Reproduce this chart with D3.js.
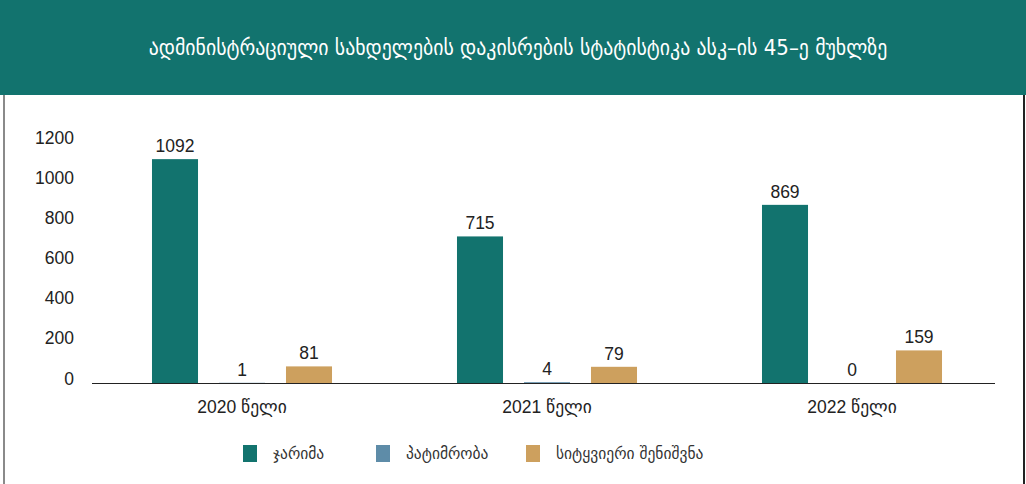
<!DOCTYPE html>
<html>
<head>
<meta charset="utf-8">
<script src="https://cdn.jsdelivr.net/npm/d3@7"></script>
<style>
  body { margin: 0; background: #fff; }
  svg { display: block; }
</style>
</head>
<body>
<div id="chart"></div>
<script>
// chart data
const years = ["2020 წელი", "2021 წელი", "2022 წელი"];
const seriesNames = ["ჯარიმა", "პატიმრობა", "სიტყვიერი შენიშვნა"];
const fines = [1092, 715, 869];
const arrests = [1, 4, 0];
const warnings = [81, 79, 159];
const yTicks = [0, 200, 400, 600, 800, 1000, 1200];
const colors = ["#12736e", "#5e8ca8", "#cda05e"];

const W = 1026, H = 484;
const values = [fines, arrests, warnings];
const data = years.map((yr, i) => ({
    year: yr,
    vals: seriesNames.map((s, j) => ({ key: s, value: values[j][i], color: colors[j] }))
}));

const svg = d3.select("#chart").append("svg")
    .attr("width", W)
    .attr("height", H);

// header band
svg.append("rect")
    .attr("x", 0).attr("y", 0)
    .attr("width", W).attr("height", 95)
    .attr("fill", "#12736e");

svg.append("text")
    .attr("x", 518).attr("y", 49)
    .attr("text-anchor", "middle")
    .attr("dominant-baseline", "middle")
    .attr("fill", "#fff")
    .style("font-family", "'DejaVu Sans Condensed', 'DejaVu Sans', sans-serif")
    .style("font-size", "22px")
    .text("ადმინისტრაციული სახდელების დაკისრების სტატისტიკა ასკ–ის 45–ე მუხლზე");

// frame lines
svg.append("line")
    .attr("x1", 4).attr("x2", 4).attr("y1", 95).attr("y2", H)
    .attr("stroke", "#8a8a8a").attr("stroke-width", 2);
svg.append("line")
    .attr("x1", 1024).attr("x2", 1024).attr("y1", 95).attr("y2", H)
    .attr("stroke", "#222").attr("stroke-width", 2);

// scales
const x0 = d3.scaleBand()
    .domain(years)
    .range([89.5, 1004.5])
    .paddingInner(0.341)
    .paddingOuter(0.1705);

const x1 = d3.scaleBand()
    .domain(seriesNames)
    .range([0, x0.bandwidth()])
    .paddingInner(0.313)
    .paddingOuter(0.1565);

const y = d3.scaleLinear()
    .domain([0, 1200])
    .range([383, 137]);

const font = "'Liberation Sans', Arial, 'DejaVu Sans', sans-serif";
const fs = "17.5px";

// y axis labels (no line)
const yAxis = svg.append("g")
    .attr("transform", "translate(74,0)")
    .call(d3.axisLeft(y).tickValues(yTicks).tickFormat(d3.format("d")).tickSize(0).tickPadding(0));
yAxis.select(".domain").remove();
yAxis.selectAll("text")
    .attr("dy", (d) => (d / 1200 * 5 + 1) + "px")
    .style("font-family", font)
    .style("font-size", fs)
    .attr("fill", "#222");

// bars
const groups = svg.selectAll("g.group")
    .data(data)
    .join("g")
    .attr("class", "group")
    .attr("transform", d => `translate(${x0(d.year)},0)`);

groups.selectAll("rect")
    .data(d => d.vals)
    .join("rect")
    .attr("x", d => x1(d.key))
    .attr("y", d => y(d.value))
    .attr("width", x1.bandwidth())
    .attr("height", d => y(0) - y(d.value))
    .attr("fill", d => d.color);

groups.selectAll("text")
    .data(d => d.vals)
    .join("text")
    .attr("x", d => x1(d.key) + x1.bandwidth() / 2)
    .attr("y", d => y(d.value) - 7)
    .attr("text-anchor", "middle")
    .style("font-family", font)
    .style("font-size", fs)
    .attr("fill", "#222")
    .text(d => d.value);

// baseline + x axis labels
const xAxis = svg.append("g")
    .attr("transform", `translate(0,${y(0)})`)
    .call(d3.axisBottom(x0).tickSize(0).tickPadding(18).tickSizeOuter(0));
xAxis.select(".domain")
    .attr("d", `M92,0.5H995`)
    .attr("stroke", "#222");
xAxis.selectAll("text")
    .style("font-family", font)
    .style("font-size", fs)
    .attr("fill", "#222");

// legend
const legendX = [243, 376, 526];
const legend = svg.selectAll("g.legend")
    .data(seriesNames)
    .join("g")
    .attr("class", "legend")
    .attr("transform", (d, i) => `translate(${legendX[i]},445)`);

legend.append("rect")
    .attr("width", 14).attr("height", 17)
    .attr("fill", (d, i) => colors[i]);

legend.append("text")
    .attr("x", 30).attr("y", 9)
    .attr("dominant-baseline", "middle")
    .style("font-family", "'DejaVu Sans', sans-serif")
    .style("font-size", "15.5px")
    .attr("fill", "#333")
    .text(d => d);
</script>
</body>
</html>
